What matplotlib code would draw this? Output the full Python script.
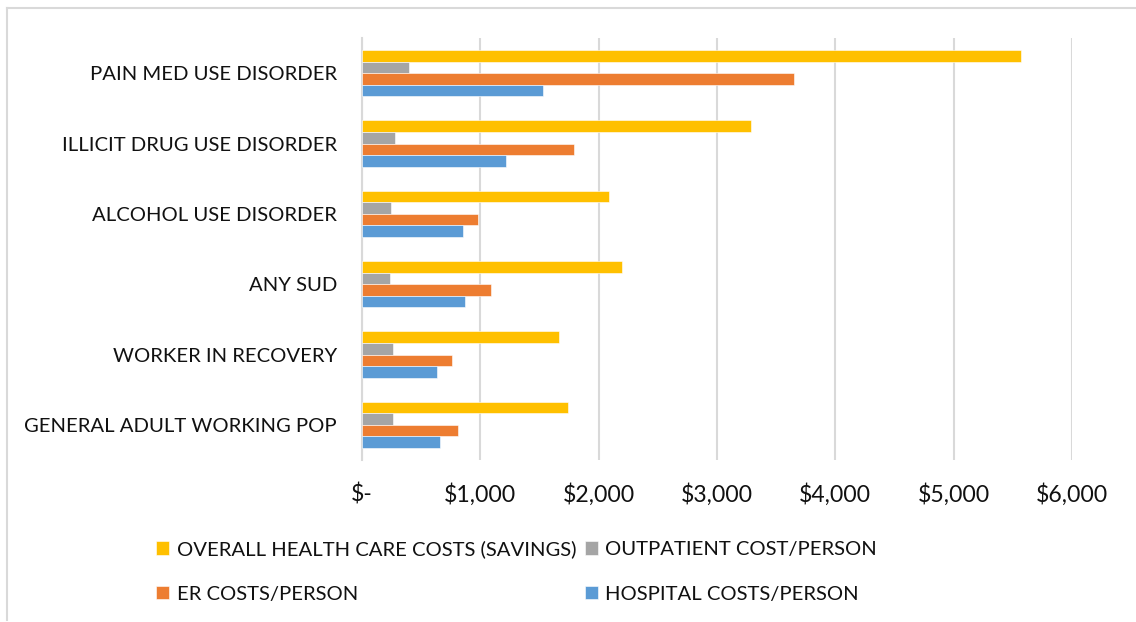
import matplotlib.pyplot as plt
import numpy as np
from matplotlib.lines import Line2D

categories = ["PAIN MED USE DISORDER", "ILLICIT DRUG USE DISORDER", "ALCOHOL USE DISORDER",
              "ANY SUD", "WORKER IN RECOVERY", "GENERAL ADULT WORKING POP"]
overall = [5571, 3284, 2085, 2197, 1662, 1741]
outpatient = [395, 279, 248, 237, 265, 262]
er = [3647, 1790, 980, 1090, 763, 811]
hospital = [1526, 1213, 856, 870, 631, 662]
series_names = ["OVERALL HEALTH CARE COSTS (SAVINGS)", "OUTPATIENT COST/PERSON",
                "ER COSTS/PERSON", "HOSPITAL COSTS/PERSON"]
xticks = [0, 1000, 2000, 3000, 4000, 5000, 6000]
xticklabels = ["$-", "$1,000", "$2,000", "$3,000", "$4,000", "$5,000", "$6,000"]

colors = ["#ffc000", "#a5a5a5", "#ed7d31", "#5b9bd5"]
plt.rcParams['font.family'] = ['Lato', 'DejaVu Sans']

fig = plt.figure(figsize=(11.36, 6.22), dpi=100)
ax = fig.add_axes([362/1136, 1-460/622, (1072-362)/1136, (460-38)/622])

n = len(categories)
y = np.arange(n)[::-1]  # top category first
h = 0.165
data = [overall, outpatient, er, hospital]
bars = []
for i, (vals, c) in enumerate(zip(data, colors)):
    off = (1.5 - i) * h
    b = ax.barh(y + off, vals, height=h, color=c, edgecolor='white', linewidth=0.4, zorder=3)
    bars.append(b)

ax.set_ylim(-0.5, n - 0.5)
ax.set_xlim(0, 6000)
ax.set_yticks(y)
ax.set_yticklabels(categories, fontsize=14.6, color='#111111')
ax.set_xticks(xticks)
ax.set_xticklabels(xticklabels, fontsize=16.6, color='#111111')
ax.tick_params(axis='both', length=0)
ax.tick_params(axis='x', pad=17)
ax.tick_params(axis='y', pad=18)
ax.grid(axis='x', color='#d9d9d9', linewidth=1.5, zorder=0)
for s in ['top', 'right', 'bottom']:
    ax.spines[s].set_visible(False)
ax.spines['left'].set_color('#d9d9d9')
ax.spines['left'].set_linewidth(1.5)

# legend, row-major like the original
order = [0, 2, 1, 3]
handles = [bars[i] for i in order]
labels = [series_names[i] for i in order]
fig.legend(handles, labels, ncol=2, loc='upper left', bbox_to_anchor=(138/1136, 1-522/622),
           frameon=False, fontsize=14.6, handlelength=0.65, handleheight=0.65,
           handletextpad=0.35, columnspacing=0.45, labelspacing=1.35, labelcolor='#111111')

# chart border (top and left)
fig.add_artist(Line2D([7/1136, 1], [1-8/622, 1-8/622], color='#d9d9d9', linewidth=1.5))
fig.add_artist(Line2D([7/1136, 7/1136], [1-8/622, 1-620/622], color='#d9d9d9', linewidth=1.5))

fig.savefig('out.png', dpi=100)
